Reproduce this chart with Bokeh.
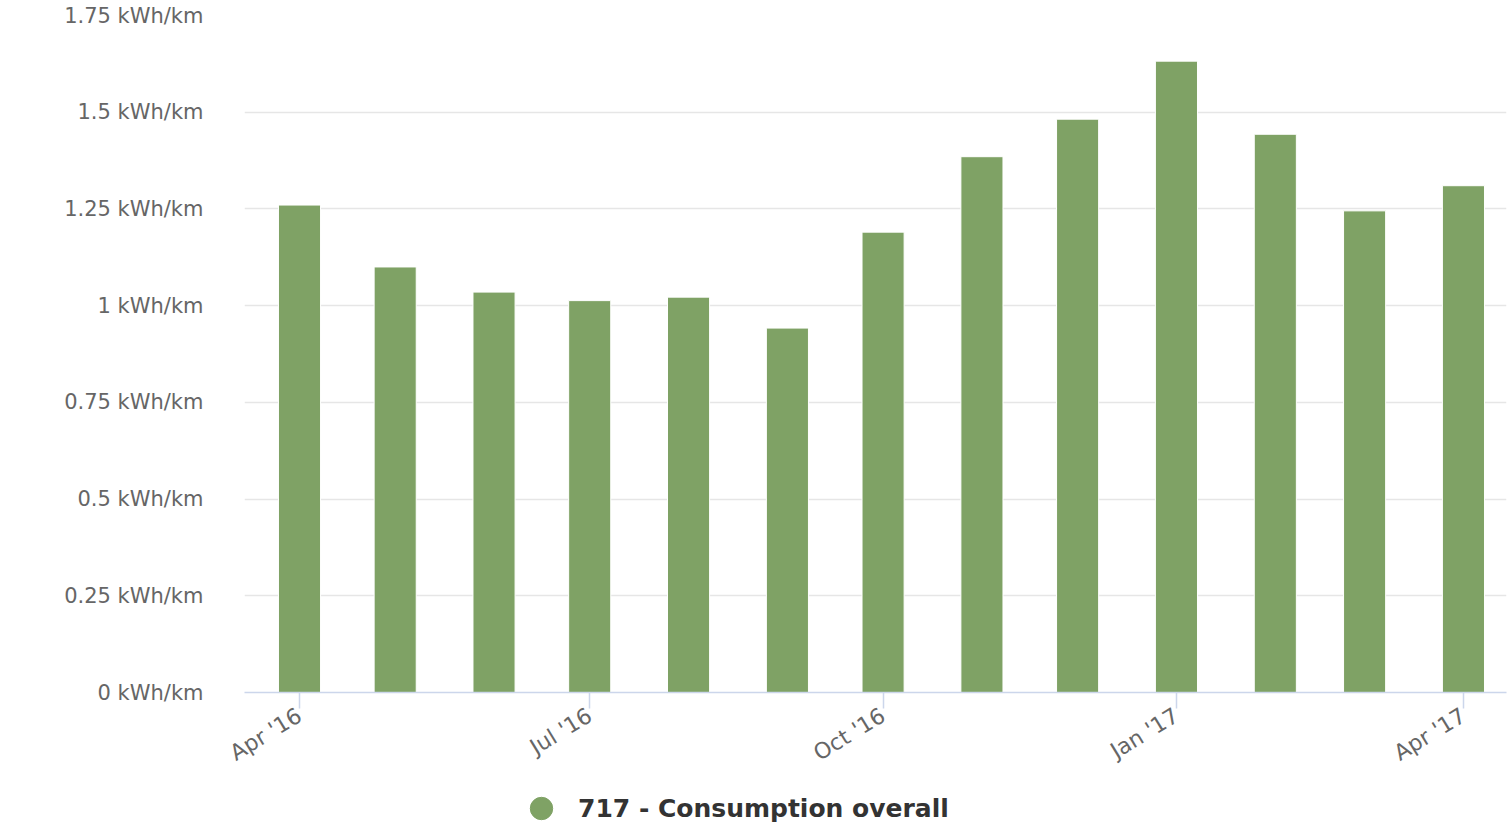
import math
from datetime import datetime, timedelta
from bokeh.plotting import figure
from bokeh.layouts import column
from bokeh.models import (Range1d, FixedTicker, DatetimeTickFormatter, CustomJSTickFormatter,
                          Legend, LegendItem, ColumnDataSource)
from bokeh.embed import file_html
from bokeh.resources import INLINE

# ---- data ----
months = ["2016-04", "2016-05", "2016-06", "2016-07", "2016-08", "2016-09", "2016-10",
          "2016-11", "2016-12", "2017-01", "2017-02", "2017-03", "2017-04"]
consumption = [1.26, 1.10, 1.035, 1.013, 1.022, 0.942, 1.19,
               1.385, 1.482, 1.632, 1.443, 1.245, 1.31]
tick_months = ["2016-04", "2016-07", "2016-10", "2017-01", "2017-04"]
y_ticks = [0, 0.25, 0.5, 0.75, 1, 1.25, 1.5, 1.75]
series_name = "717 - Consumption overall"

GREEN = "#7fa265"
FONT = "DejaVu Sans"

def to_dt(s):
    return datetime.strptime(s, "%Y-%m")

def to_ms(d):
    return (d - datetime(1970, 1, 1)).total_seconds() * 1000.0

dates = [to_dt(m) for m in months]
src = ColumnDataSource(dict(x=dates, top=consumption))

x_start = to_dt("2016-04") - timedelta(days=17.25)
x_end = to_dt("2017-04") + timedelta(days=13.5)

W = 1508
H_LEG = 40
H_MAIN = 822 - H_LEG
p = figure(width=W, height=H_MAIN, x_axis_type="datetime",
           x_range=Range1d(x_start, x_end), y_range=Range1d(0, 1.75),
           output_backend="svg", toolbar_location=None,
           min_border_left=244, min_border_right=2, min_border_top=15,
           min_border_bottom=H_MAIN - 692)
p.outline_line_color = None
p.background_fill_color = "white"
p.border_fill_color = "white"

bar_w = 13.2 * 86400000
p.vbar(x="x", top="top", width=bar_w, bottom=0, source=src,
       fill_color=GREEN, line_color="white", line_width=1)

# x axis
p.xaxis.ticker = FixedTicker(ticks=[to_ms(to_dt(m)) for m in tick_months])
fmt = "%b '%y"
p.xaxis.formatter = DatetimeTickFormatter(
    milliseconds=fmt, seconds=fmt, minsec=fmt, minutes=fmt, hourmin=fmt, hours=fmt,
    days=fmt, months=fmt, years=fmt)
p.xaxis.major_label_orientation = 0.55
p.xaxis.axis_line_color = "#ccd6eb"
p.xaxis.axis_line_width = 1.5
p.xaxis.major_tick_line_color = "#ccd6eb"
p.xaxis.major_tick_line_width = 1.5
p.xaxis.major_tick_out = 16
p.xaxis.major_tick_in = 0
p.xaxis.minor_tick_line_color = None
p.xaxis.major_label_text_font = FONT
p.xaxis.major_label_text_font_size = "22px"
p.xaxis.major_label_text_color = "#666666"
p.xaxis.major_label_standoff = 5
p.xgrid.grid_line_color = None

# y axis
p.yaxis.ticker = FixedTicker(ticks=y_ticks)
p.yaxis.formatter = CustomJSTickFormatter(code="return tick + ' kWh/km';")
p.yaxis.axis_line_color = None
p.yaxis.major_tick_line_color = None
p.yaxis.minor_tick_line_color = None
p.yaxis.major_tick_out = 0
p.yaxis.major_tick_in = 0
p.yaxis.major_label_standoff = 41
p.yaxis.major_label_text_font = FONT
p.yaxis.major_label_text_font_size = "21px"
p.yaxis.major_label_text_color = "#666666"
p.ygrid.grid_line_color = "#e6e6e6"
p.ygrid.grid_line_width = 1.5

# legend strip below the chart (frame aligned with the main chart's frame)
pl = figure(width=W, height=H_LEG, output_backend="svg", toolbar_location=None,
            x_range=Range1d(0, 1), y_range=Range1d(0, 1),
            min_border=0, min_border_left=0, min_border_right=0,
            min_border_top=0, min_border_bottom=0)
pl.axis.visible = False
pl.grid.visible = False
pl.outline_line_color = None
# hidden proxy renderer (placed outside the visible range) that supplies the legend's circle
dot = pl.scatter(x=[-5], y=[-5], marker="circle", size=10, fill_color=GREEN, line_color=GREEN)
legend = Legend(items=[LegendItem(label=series_name, renderers=[dot])],
                location=(269, -14), orientation="horizontal",
                glyph_width=56, glyph_height=56, label_standoff=9,
                padding=0, margin=0, spacing=0,
                border_line_color=None, background_fill_alpha=0,
                label_text_font=FONT, label_text_font_size="25px",
                label_text_font_style="bold", label_text_color="#333333")
pl.add_layout(legend, "center")

layout = column(p, pl, spacing=0)
open("out.html", "w").write(file_html(layout, INLINE))
